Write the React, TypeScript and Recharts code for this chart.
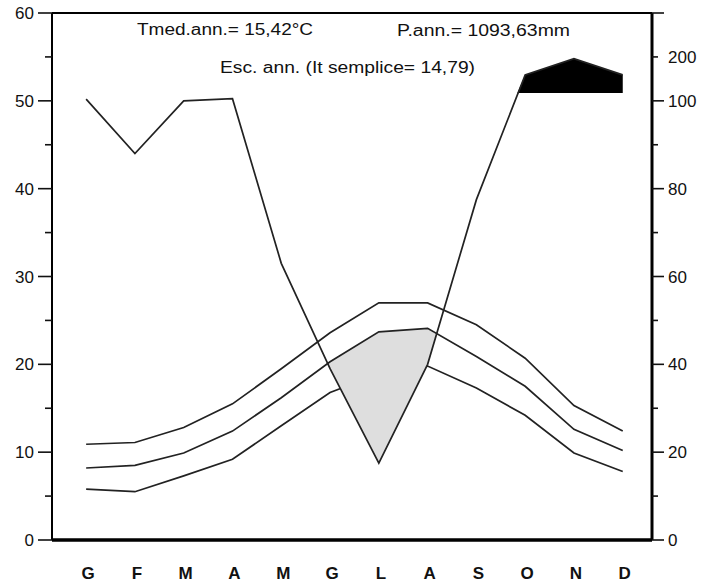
import { ComposedChart, Line, Area, XAxis, YAxis, ReferenceLine } from 'recharts'

const FONT = '"Liberation Sans", Arial, sans-serif'

const MONTHS = ['G', 'F', 'M', 'A', 'M', 'G', 'L', 'A', 'S', 'O', 'N', 'D']
const T_MAX = [10.9, 11.1, 12.8, 15.5, 19.5, 23.6, 27.0, 27.0, 24.5, 20.7, 15.3, 12.4]
const T_MEAN = [8.2, 8.5, 9.9, 12.4, 16.2, 20.3, 23.7, 24.1, 20.9, 17.5, 12.6, 10.2]
const T_MIN = [5.8, 5.5, 7.3, 9.2, 13.0, 16.8, 18.9, 19.8, 17.3, 14.2, 9.9, 7.8]
const PREC = [104, 88, 100, 105, 63, 39, 17.5, 40, 77.5, 159, 196, 159]

// dry season (grey) ends where rain crosses the mean temp
const DRY_START = { x: 4.96, v: 19.9 }
const DRY_END = { x: 7.17, v: 23.4 }
const DRY_MONTHS = [5, 6, 7]
// wet season (black) on top of the compressed part
const WET_BASE = 50.9
const WET_START_X = 8.84
const WET_MONTHS = [9, 10, 11]

const T_TICKS = [0, 5, 10, 15, 20, 25, 30, 35, 40, 45, 50, 55, 60]
const P_LABELS = [0, 20, 40, 60, 80, 100, 200]

// 2 mm = 1 °C up to 100 mm, then 20 mm = 1 °C
const pToT = (p: number) => (p <= 100 ? p / 2 : 50 + (p - 100) / 20)
const tToP = (t: number) => (t <= 50 ? t * 2 : 100 + (t - 50) * 20)

const data = MONTHS.map((m, i) => ({
  x: i,
  month: m,
  tMax: T_MAX[i],
  tMean: T_MEAN[i],
  tMin: T_MIN[i],
  prec: pToT(PREC[i]),
}))

const dryData = [
  { x: DRY_START.x, range: [DRY_START.v, DRY_START.v] },
  ...DRY_MONTHS.map((i) => ({ x: i, range: [pToT(PREC[i]), T_MEAN[i]] })),
  { x: DRY_END.x, range: [DRY_END.v, DRY_END.v] },
]

const wetData = [
  { x: WET_START_X, v: WET_BASE },
  ...WET_MONTHS.map((i) => ({ x: i, v: pToT(PREC[i]) })),
]

const LeftTick = ({ x, y, payload }: any) => {
  const v = payload.value
  const major = v % 10 === 0
  return (
    <g>
      <line x1={x - (major ? 14 : 7)} x2={x} y1={y} y2={y} stroke="#111" strokeWidth={1.6} />
      {major && (
        <text x={x - 18} y={y} dy={6} textAnchor="end" fontSize={17} fill="#111" fontFamily={FONT}>
          {v}
        </text>
      )}
    </g>
  )
}

const RightTick = ({ x, y, payload }: any) => {
  const v = payload.value
  const p = Math.round(tToP(v))
  const major = (v % 10 === 0 && v <= 50) || v === 60
  return (
    <g>
      <line x1={x} x2={x + (major ? 12 : 6)} y1={y} y2={y} stroke="#111" strokeWidth={1.6} />
      {P_LABELS.includes(p) && (
        <text x={x + 16} y={y} dy={6} textAnchor="start" fontSize={17} fill="#111" fontFamily={FONT}>
          {p}
        </text>
      )}
    </g>
  )
}

const MonthTick = ({ x, y, payload }: any) => (
  <text x={x + 2} y={y + 39} textAnchor="middle" fontSize={17} fontWeight="bold" fill="#111" fontFamily={FONT}>
    {MONTHS[payload.value]}
  </text>
)

const App = () => {
  return (
    <div style={{ position: 'absolute', left: 0, top: 0, width: 708, height: 585, background: '#fff' }}>
      <ComposedChart width={708} height={585} data={data} margin={{ top: 13, right: 0, bottom: 0, left: 0 }}>
        <XAxis
          dataKey="x"
          type="number"
          domain={[-0.7, 11.6]}
          allowDataOverflow
          ticks={data.map((d) => d.x)}
          interval={0}
          tickLine={false}
          tickSize={0}
          tickMargin={0}
          height={45}
          axisLine={{ stroke: '#000', strokeWidth: 3 }}
          tick={<MonthTick />}
        />
        <YAxis
          yAxisId="left"
          domain={[0, 60]}
          ticks={T_TICKS}
          interval={0}
          width={52}
          tickLine={false}
          tickSize={0}
          tickMargin={0}
          axisLine={{ stroke: '#000', strokeWidth: 2 }}
          tick={<LeftTick />}
        />
        <YAxis
          yAxisId="right"
          orientation="right"
          domain={[0, 60]}
          ticks={T_TICKS}
          interval={0}
          width={56}
          tickLine={false}
          tickSize={0}
          tickMargin={0}
          axisLine={{ stroke: '#000', strokeWidth: 3 }}
          tick={<RightTick />}
        />
        <ReferenceLine yAxisId="left" y={60} stroke="#000" strokeWidth={2} />
        <ReferenceLine yAxisId="left" y={0} stroke="#000" strokeWidth={3} />

        <Line yAxisId="left" dataKey="tMin" type="linear" stroke="#222" strokeWidth={1.7} dot={false} isAnimationActive={false} zIndex={50} />
        <Area
          yAxisId="left"
          data={dryData}
          dataKey="range"
          type="linear"
          fill="#dedede"
          fillOpacity={1}
          stroke="none"
          isAnimationActive={false}
          zIndex={100}
        />
        <Area
          yAxisId="right"
          data={wetData}
          dataKey="v"
          baseValue={WET_BASE}
          type="linear"
          fill="#000"
          fillOpacity={1}
          stroke="none"
          isAnimationActive={false}
          zIndex={100}
        />
        <Line yAxisId="left" dataKey="tMean" type="linear" stroke="#222" strokeWidth={1.7} dot={false} isAnimationActive={false} />
        <Line yAxisId="left" dataKey="tMax" type="linear" stroke="#222" strokeWidth={1.7} dot={false} isAnimationActive={false} />
        <Line yAxisId="right" dataKey="prec" type="linear" stroke="#222" strokeWidth={1.7} dot={false} isAnimationActive={false} />
      </ComposedChart>
      <svg width={708} height={585} style={{ position: 'absolute', left: 0, top: 0, pointerEvents: 'none' }}>
        <g fontFamily={FONT} fontSize={16} fill="#111">
          <text x={137} y={35} textLength={176} lengthAdjust="spacingAndGlyphs">Tmed.ann.= 15,42°C</text>
          <text x={397} y={36} textLength={173} lengthAdjust="spacingAndGlyphs">P.ann.= 1093,63mm</text>
          <text x={220} y={73} textLength={255} lengthAdjust="spacingAndGlyphs">Esc. ann. (It semplice= 14,79)</text>
        </g>
      </svg>
    </div>
  )
}

export default App
